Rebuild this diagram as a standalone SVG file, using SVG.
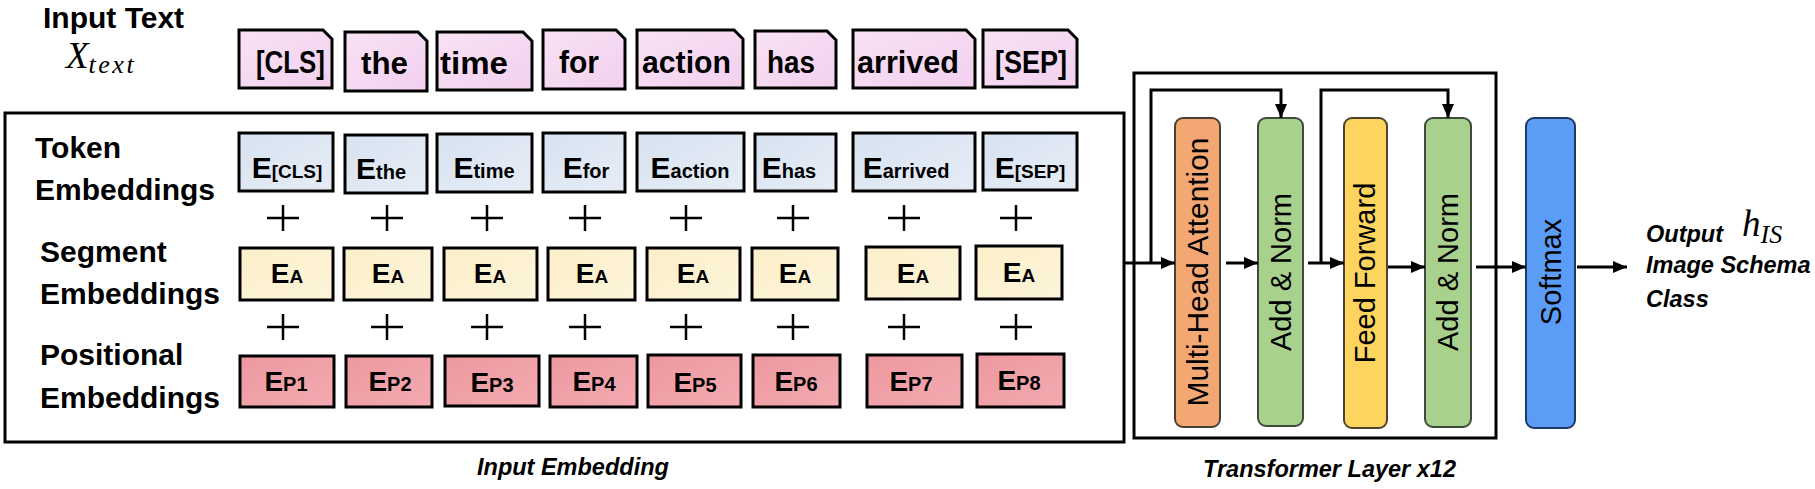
<svg xmlns="http://www.w3.org/2000/svg" width="1815" height="489" viewBox="0 0 1815 489">
<style>
.lbl{font-family:"Liberation Sans",Arial,sans-serif;font-weight:bold;font-size:30px;fill:#000}
.tok{font-family:"Liberation Sans",Arial,sans-serif;font-weight:bold;font-size:31px;fill:#000}
.emb{font-family:"Liberation Sans",Arial,sans-serif;font-weight:bold;fill:#000}
.cap{font-family:"Liberation Sans",Arial,sans-serif;font-weight:bold;font-style:italic;font-size:23.5px;fill:#000}
.math{font-family:"Liberation Serif","Times New Roman",serif;font-style:italic;fill:#000}
.vt{font-family:"Liberation Sans",Arial,sans-serif;font-size:29px;fill:#000}
.frame{fill:none;stroke:#000;stroke-width:3}
.it{fill:url(#gPink);stroke:#000;stroke-width:3}
.te{fill:url(#gBlue);stroke:#000;stroke-width:3}
.se{fill:url(#gYel);stroke:#000;stroke-width:3}
.pe{fill:url(#gRed);stroke:#000;stroke-width:3}
.plus{stroke:#000;stroke-width:2.5;fill:none}
.blk{stroke-width:2;rx:8px;ry:8px}
.wire{fill:none;stroke:#000;stroke-width:3}
</style>
<defs>
<linearGradient id="gPink" x1="0" y1="0" x2="1" y2="1"><stop offset="0" stop-color="#f8e2f5"/><stop offset="1" stop-color="#f2d0ee"/></linearGradient>
<linearGradient id="gBlue" x1="0" y1="0" x2="1" y2="1"><stop offset="0" stop-color="#d7e3f0"/><stop offset="1" stop-color="#e6ecf6"/></linearGradient>
<linearGradient id="gYel" x1="0" y1="0" x2="1" y2="1"><stop offset="0" stop-color="#fcefc9"/><stop offset="1" stop-color="#fdf4da"/></linearGradient>
<linearGradient id="gRed" x1="0" y1="0" x2="1" y2="1"><stop offset="0" stop-color="#ee98a0"/><stop offset="1" stop-color="#f3aab0"/></linearGradient>
<marker id="arr" viewBox="0 0 14 12" refX="14" refY="6" markerWidth="14" markerHeight="12" markerUnits="userSpaceOnUse" orient="auto"><path d="M0,0 L14,6 L0,12 Z" fill="#000"/></marker>
</defs>

<g id="title">
<text class="lbl" x="43" y="28">Input Text</text>
<text class="math" x="66" y="68" font-size="37">X<tspan font-size="26" dy="5" letter-spacing="2.5">text</tspan></text>
</g>

<g id="input-tokens">
<g id="tok-cls"><path class="it" d="M239,30 H323 L332,39 V88 H239 Z"/><text class="tok" x="256" y="73" textLength="69" lengthAdjust="spacingAndGlyphs">[CLS]</text></g>
<g id="tok-the"><path class="it" d="M345,32 H418 L427,41 V91 H345 Z"/><text class="tok" x="361" y="74" textLength="47" lengthAdjust="spacingAndGlyphs">the</text></g>
<g id="tok-time"><path class="it" d="M437,32 H523 L532,41 V90 H437 Z"/><text class="tok" x="440" y="74" textLength="68" lengthAdjust="spacingAndGlyphs">time</text></g>
<g id="tok-for"><path class="it" d="M543,30 H616 L625,39 V89 H543 Z"/><text class="tok" x="559" y="73" textLength="40" lengthAdjust="spacingAndGlyphs">for</text></g>
<g id="tok-action"><path class="it" d="M637,30 H734 L743,39 V88 H637 Z"/><text class="tok" x="642" y="73" textLength="89" lengthAdjust="spacingAndGlyphs">action</text></g>
<g id="tok-has"><path class="it" d="M755,31 H827 L836,40 V88 H755 Z"/><text class="tok" x="767" y="73" textLength="48" lengthAdjust="spacingAndGlyphs">has</text></g>
<g id="tok-arrived"><path class="it" d="M853,30 H966 L975,39 V88 H853 Z"/><text class="tok" x="857" y="73" textLength="102" lengthAdjust="spacingAndGlyphs">arrived</text></g>
<g id="tok-sep"><path class="it" d="M983,30 H1068 L1077,39 V87 H983 Z"/><text class="tok" x="995" y="73" textLength="72" lengthAdjust="spacingAndGlyphs">[SEP]</text></g>
</g>

<g id="input-embedding">
<rect class="frame" x="5" y="113" width="1119" height="329"/>
<text class="lbl" x="35" y="158">Token</text>
<text class="lbl" x="35" y="200">Embeddings</text>
<text class="lbl" x="40" y="262">Segment</text>
<text class="lbl" x="40" y="304">Embeddings</text>
<text class="lbl" x="40" y="365">Positional</text>
<text class="lbl" x="40" y="408">Embeddings</text>
<text class="cap" x="477" y="475">Input Embedding</text>
</g>

<g id="token-embeddings">
<g id="te-cls"><rect class="te" x="239" y="133" width="94" height="58"/><text class="emb" x="287" y="178" text-anchor="middle"><tspan font-size="30">E</tspan><tspan font-size="19">[CLS]</tspan></text></g>
<g id="te-the"><rect class="te" x="345" y="135" width="82" height="58"/><text class="emb" x="381" y="179" text-anchor="middle"><tspan font-size="30">E</tspan><tspan font-size="20">the</tspan></text></g>
<g id="te-time"><rect class="te" x="437" y="134" width="95" height="58"/><text class="emb" x="484" y="178" text-anchor="middle"><tspan font-size="30">E</tspan><tspan font-size="20">time</tspan></text></g>
<g id="te-for"><rect class="te" x="543" y="133" width="82" height="59"/><text class="emb" x="586" y="178" text-anchor="middle"><tspan font-size="30">E</tspan><tspan font-size="20">for</tspan></text></g>
<g id="te-action"><rect class="te" x="637" y="133" width="107" height="58"/><text class="emb" x="690" y="178" text-anchor="middle"><tspan font-size="30">E</tspan><tspan font-size="20">action</tspan></text></g>
<g id="te-has"><rect class="te" x="755" y="134" width="81" height="57"/><text class="emb" x="789" y="178" text-anchor="middle"><tspan font-size="30">E</tspan><tspan font-size="20">has</tspan></text></g>
<g id="te-arrived"><rect class="te" x="853" y="133" width="122" height="58"/><text class="emb" x="906" y="178" text-anchor="middle"><tspan font-size="30">E</tspan><tspan font-size="20">arrived</tspan></text></g>
<g id="te-sep"><rect class="te" x="983" y="133" width="94" height="57"/><text class="emb" x="1030" y="178" text-anchor="middle"><tspan font-size="30">E</tspan><tspan font-size="19">[SEP]</tspan></text></g>
</g>

<g id="plus-signs">
<path class="plus" d="M267,218 H299 M283,205 V231 M371,218 H403 M387,205 V231 M471,218 H503 M487,205 V231 M569,218 H601 M585,205 V231 M670,218 H702 M686,205 V231 M777,218 H809 M793,205 V231 M888,218 H920 M904,205 V231 M1000,218 H1032 M1016,205 V231"/>
<path class="plus" d="M267,327 H299 M283,314 V340 M371,327 H403 M387,314 V340 M471,327 H503 M487,314 V340 M569,327 H601 M585,314 V340 M670,327 H702 M686,314 V340 M777,327 H809 M793,314 V340 M888,327 H920 M904,314 V340 M1000,327 H1032 M1016,314 V340"/>
</g>

<g id="segment-embeddings">
<g id="se-1"><rect class="se" x="240" y="248" width="93" height="52"/><text class="emb" x="287" y="283" text-anchor="middle"><tspan font-size="28">E</tspan><tspan font-size="19">A</tspan></text></g>
<g id="se-2"><rect class="se" x="344" y="248" width="88" height="52"/><text class="emb" x="388" y="283" text-anchor="middle"><tspan font-size="28">E</tspan><tspan font-size="19">A</tspan></text></g>
<g id="se-3"><rect class="se" x="444" y="248" width="93" height="52"/><text class="emb" x="490" y="283" text-anchor="middle"><tspan font-size="28">E</tspan><tspan font-size="19">A</tspan></text></g>
<g id="se-4"><rect class="se" x="548" y="248" width="87" height="52"/><text class="emb" x="592" y="283" text-anchor="middle"><tspan font-size="28">E</tspan><tspan font-size="19">A</tspan></text></g>
<g id="se-5"><rect class="se" x="647" y="248" width="93" height="52"/><text class="emb" x="693" y="283" text-anchor="middle"><tspan font-size="28">E</tspan><tspan font-size="19">A</tspan></text></g>
<g id="se-6"><rect class="se" x="752" y="248" width="86" height="52"/><text class="emb" x="795" y="283" text-anchor="middle"><tspan font-size="28">E</tspan><tspan font-size="19">A</tspan></text></g>
<g id="se-7"><rect class="se" x="866" y="247" width="94" height="52"/><text class="emb" x="913" y="283" text-anchor="middle"><tspan font-size="28">E</tspan><tspan font-size="19">A</tspan></text></g>
<g id="se-8"><rect class="se" x="976" y="246" width="86" height="53"/><text class="emb" x="1019" y="282" text-anchor="middle"><tspan font-size="28">E</tspan><tspan font-size="19">A</tspan></text></g>
</g>

<g id="positional-embeddings">
<g id="pe-1"><rect class="pe" x="240" y="356" width="94" height="51"/><text class="emb" x="286" y="391" text-anchor="middle"><tspan font-size="28">E</tspan><tspan font-size="20">P1</tspan></text></g>
<g id="pe-2"><rect class="pe" x="346" y="356" width="86" height="51"/><text class="emb" x="390" y="391" text-anchor="middle"><tspan font-size="28">E</tspan><tspan font-size="20">P2</tspan></text></g>
<g id="pe-3"><rect class="pe" x="445" y="356" width="94" height="50"/><text class="emb" x="492" y="392" text-anchor="middle"><tspan font-size="28">E</tspan><tspan font-size="20">P3</tspan></text></g>
<g id="pe-4"><rect class="pe" x="550" y="356" width="87" height="51"/><text class="emb" x="594" y="391" text-anchor="middle"><tspan font-size="28">E</tspan><tspan font-size="20">P4</tspan></text></g>
<g id="pe-5"><rect class="pe" x="648" y="355" width="93" height="52"/><text class="emb" x="695" y="392" text-anchor="middle"><tspan font-size="28">E</tspan><tspan font-size="20">P5</tspan></text></g>
<g id="pe-6"><rect class="pe" x="753" y="355" width="87" height="52"/><text class="emb" x="796" y="391" text-anchor="middle"><tspan font-size="28">E</tspan><tspan font-size="20">P6</tspan></text></g>
<g id="pe-7"><rect class="pe" x="867" y="355" width="95" height="52"/><text class="emb" x="911" y="391" text-anchor="middle"><tspan font-size="28">E</tspan><tspan font-size="20">P7</tspan></text></g>
<g id="pe-8"><rect class="pe" x="977" y="354" width="87" height="53"/><text class="emb" x="1019" y="390" text-anchor="middle"><tspan font-size="28">E</tspan><tspan font-size="20">P8</tspan></text></g>
</g>

<g id="transformer-layer">
<rect class="frame" x="1134" y="73" width="362" height="365"/>
<text class="cap" x="1203" y="477">Transformer Layer x12</text>
</g>

<g id="multi-head-attention"><rect class="blk" x="1175" y="118" width="45" height="309" fill="#f3a772" stroke="#4a4038"/><text class="vt" transform="translate(1208,272) rotate(-90)" text-anchor="middle" textLength="269" lengthAdjust="spacingAndGlyphs">Multi-Head Attention</text></g>
<g id="add-norm-1"><rect class="blk" x="1258" y="118" width="45" height="308" fill="#a9d18e" stroke="#3f4a3a"/><text class="vt" transform="translate(1291,272) rotate(-90)" text-anchor="middle">Add &amp; Norm</text></g>
<g id="feed-forward"><rect class="blk" x="1344" y="118" width="43" height="310" fill="#fdd55e" stroke="#4a4430"/><text class="vt" transform="translate(1375,273) rotate(-90)" text-anchor="middle" font-size="28">Feed Forward</text></g>
<g id="add-norm-2"><rect class="blk" x="1425" y="118" width="46" height="309" fill="#a9d18e" stroke="#3f4a3a"/><text class="vt" transform="translate(1458,272) rotate(-90)" text-anchor="middle">Add &amp; Norm</text></g>
<g id="softmax"><rect class="blk" x="1526" y="118" width="49" height="310" fill="#5b9cf6" stroke="#1f3864"/><text class="vt" transform="translate(1561,272) rotate(-90)" text-anchor="middle" font-size="28" fill="#1f3864">Softmax</text></g>

<g id="output">
<text class="cap" x="1646" y="242" font-size="23">Output</text>
<text class="math" x="1742" y="236" font-size="37">h<tspan font-size="26" dy="7">IS</tspan></text>
<text class="cap" x="1646" y="273" font-size="23">Image Schema</text>
<text class="cap" x="1646" y="307" font-size="23">Class</text>
</g>

<g id="connectors">
<path class="wire" d="M1124,263 H1175" marker-end="url(#arr)"/>
<path class="wire" d="M1151,263 V90 H1281 V118" marker-end="url(#arr)"/>
<path class="wire" d="M1226,263 H1258" marker-end="url(#arr)"/>
<path class="wire" d="M1308,263 H1344" marker-end="url(#arr)"/>
<path class="wire" d="M1321,263 V90 H1448 V118" marker-end="url(#arr)"/>
<path class="wire" d="M1388,267 H1425" marker-end="url(#arr)"/>
<path class="wire" d="M1476,267 H1526" marker-end="url(#arr)"/>
<path class="wire" d="M1577,267 H1627" marker-end="url(#arr)"/>
</g>
</svg>
